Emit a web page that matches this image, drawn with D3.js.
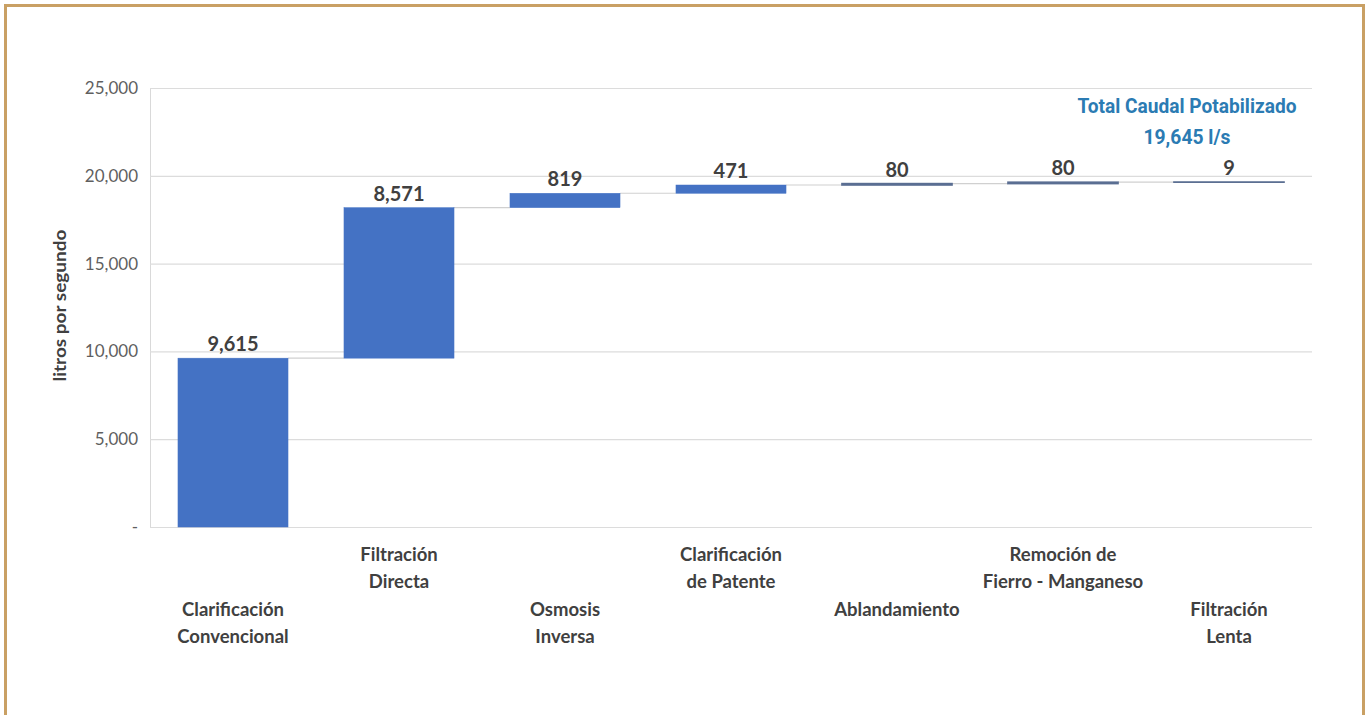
<!DOCTYPE html>
<html>
<head>
<meta charset="utf-8">
<script src="https://cdn.jsdelivr.net/npm/d3@7/dist/d3.min.js"></script>
<style>
  body { margin: 0; background: #fff; }
  svg { display: block; }
</style>
</head>
<body>
<div id="chart"></div>
<script>
// datos del gráfico
const categorias = [
  ['Clarificación', 'Convencional'],
  ['Filtración', 'Directa'],
  ['Osmosis', 'Inversa'],
  ['Clarificación', 'de Patente'],
  ['Ablandamiento'],
  ['Remoción de', 'Fierro - Manganeso'],
  ['Filtración', 'Lenta']
];
const caudales = [9615, 8571, 819, 471, 80, 80, 9];
const yTicks = [0, 5000, 10000, 15000, 20000, 25000];
const totalLineas = ['Total Caudal Potabilizado', '19,645 l/s'];

const width = 1370, height = 715;
const margin = { top: 88, right: 58, bottom: 188, left: 150 };

const svg = d3.select('#chart')
  .append('svg')
  .attr('width', width)
  .attr('height', height)
  .attr('xmlns', 'http://www.w3.org/2000/svg');

// marco
svg.append('path')
  .attr('d', `M5.5,${height + 5} V5.5 H1363.5 V${height + 5}`)
  .attr('fill', 'none')
  .attr('stroke', '#c9a064')
  .attr('stroke-width', 3);

const chart = svg.append('g')
  .attr('transform', `translate(${margin.left},${margin.top})`);
const w = width - margin.left - margin.right;
const h = height - margin.top - margin.bottom;

// acumulados para la cascada
let acum = 0;
const datos = caudales.map((v, i) => {
  const d = { i, inicio: acum, fin: acum + v, valor: v };
  acum += v;
  return d;
});

const x = d3.scaleBand()
  .domain(d3.range(categorias.length))
  .range([0, w])
  .paddingInner(0.337)
  .paddingOuter(0.1685);

const y = d3.scaleLinear()
  .domain([0, 25000])
  .range([h, 0]);

// grilla
const ejeY = chart.append('g')
  .call(d3.axisLeft(y).tickValues(yTicks).tickSize(-w)
    .tickFormat(d => d === 0 ? '-' : d3.format(',')(d)));
ejeY.select('.domain').attr('stroke', '#d9d9d9');
ejeY.selectAll('.tick line').attr('stroke', '#dcdcdc').attr('stroke-width', 1.2);
ejeY.selectAll('.tick text')
  .attr('x', -12)
  .attr('fill', '#5f5f5f')
  .style('font-family', 'Lato, "Open Sans", sans-serif')
  .style('font-size', '17px');

// título eje y
svg.append('text')
  .attr('transform', `translate(66,${margin.top + h / 2 - 2}) rotate(-90)`)
  .attr('text-anchor', 'middle')
  .attr('fill', '#404040')
  .attr('textLength', 152)
  .attr('lengthAdjust', 'spacingAndGlyphs')
  .style('font-family', 'Lato, "Open Sans", sans-serif')
  .style('font-size', '17px')
  .style('font-weight', 'bold')
  .text('litros por segundo');

// conectores
chart.selectAll('.conector')
  .data(datos.slice(0, -1))
  .enter().append('line')
  .attr('class', 'conector')
  .attr('x1', d => x(d.i) + x.bandwidth())
  .attr('x2', d => x(d.i + 1))
  .attr('y1', d => y(d.fin))
  .attr('y2', d => y(d.fin))
  .attr('stroke', '#d0d0d0')
  .attr('stroke-width', 1.2);

// barras
chart.selectAll('.bar')
  .data(datos)
  .enter().append('rect')
  .attr('class', 'bar')
  .attr('x', d => x(d.i))
  .attr('y', d => y(d.fin))
  .attr('width', x.bandwidth())
  .attr('height', d => y(d.inicio) - y(d.fin))
  .attr('fill', '#4472c4')
  .attr('stroke', d => d.valor < 200 ? '#5a6e92' : '#4472c4')
  .attr('stroke-width', d => d.valor < 200 ? 1.6 : 0.5);

// etiquetas de valor
chart.selectAll('.valor')
  .data(datos)
  .enter().append('text')
  .attr('class', 'valor')
  .attr('x', d => x(d.i) + x.bandwidth() / 2)
  .attr('y', d => y(d.fin) - 7)
  .attr('text-anchor', 'middle')
  .attr('fill', '#404040')
  .style('font-family', 'Lato, "Open Sans", sans-serif')
  .style('font-size', '20px')
  .style('font-weight', 'bold')
  .text(d => d3.format(',')(d.valor));

// categorías (alternadas)
const etiquetas = chart.selectAll('.cat')
  .data(categorias)
  .enter().append('text')
  .attr('class', 'cat')
  .attr('text-anchor', 'middle')
  .attr('fill', '#404040')
  .style('font-family', 'Lato, "Open Sans", sans-serif')
  .style('font-size', '18.5px')
  .style('font-weight', 'bold')
  .attr('transform', (d, i) => `translate(${x(i) + x.bandwidth() / 2},${h + (i % 2 === 0 ? 89 : 34)})`);
etiquetas.selectAll('tspan')
  .data(d => d)
  .enter().append('tspan')
  .attr('x', 0)
  .attr('dy', (d, j) => j === 0 ? 0 : 27)
  .text(d => d);

// total
const largos = [219, 87];
svg.selectAll('.total')
  .data(totalLineas)
  .enter().append('text')
  .attr('class', 'total')
  .attr('x', 1187)
  .attr('y', (d, i) => 113 + i * 31)
  .attr('text-anchor', 'middle')
  .attr('fill', '#2b7bb3')
  .attr('textLength', (d, i) => largos[i])
  .attr('lengthAdjust', 'spacingAndGlyphs')
  .style('font-family', 'Roboto, "Liberation Sans", sans-serif')
  .style('font-size', '20px')
  .style('font-weight', 'bold')
  .text(d => d);
</script>
</body>
</html>
